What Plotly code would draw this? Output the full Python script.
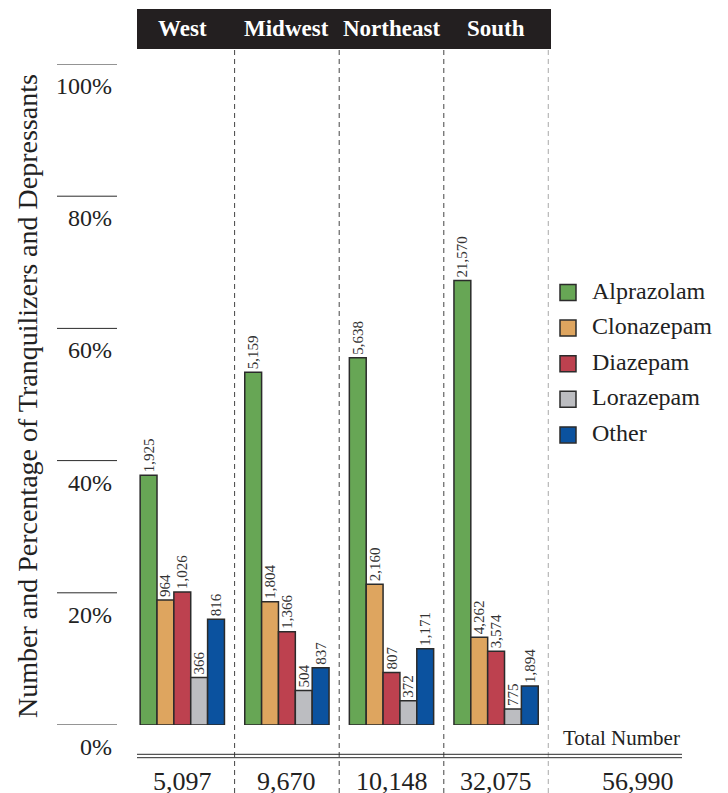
import plotly.graph_objects as go

# --- data ---
regions = ["West", "Midwest", "Northeast", "South"]
drugs = ["Alprazolam", "Clonazepam", "Diazepam", "Lorazepam", "Other"]
alprazolam = [1925, 5159, 5638, 21570]
clonazepam = [964, 1804, 2160, 4262]
diazepam = [1026, 1366, 807, 3574]
lorazepam = [366, 504, 372, 775]
other = [816, 837, 1171, 1894]
region_totals = [5097, 9670, 10148, 32075]
grand_total = 56990
pct_ticks = [0, 20, 40, 60, 80, 100]

counts = [alprazolam, clonazepam, diazepam, lorazepam, other]
colors = ["#67a655", "#dea55f", "#bd414f", "#bcbdc1", "#0b529f"]

# page body has an 8px margin, so the figure is sized to fill the rest
OFF = 8
W, H = 728 - OFF, 793 - OFF
FONT = "Liberation Serif"
INK = "#2b2b2b"


def px(x):
    # screen pixel -> paper x
    return (x - OFF) / W


def py(y):
    # screen pixel -> paper y
    return (H - (y - OFF)) / H


fig = go.Figure()

for name, vals, col in zip(drugs, counts, colors):
    pct = [v / t * 100 for v, t in zip(vals, region_totals)]
    fig.add_trace(go.Bar(
        x=list(range(len(regions))),
        y=pct,
        name=name,
        marker=dict(color=col, line=dict(color=INK, width=1.5)),
        text=[f"{v:,}" for v in vals],
        textposition="outside",
        textangle=-90,
        constraintext="none",
        cliponaxis=False,
        textfont=dict(family=FONT, size=15, color="#333"),
        hovertemplate=name + ": %{text} (%{y:.1f}%)<extra></extra>",
    ))

shapes = []
ann = []

# header bar
shapes.append(dict(type="rect", xref="paper", yref="paper",
                   x0=px(137), x1=px(551), y0=py(49), y1=py(9),
                   fillcolor="#231f20", line=dict(width=0), layer="below"))
for i, r in enumerate(regions):
    ann.append(dict(x=i, xref="x", y=py(29), yref="paper", text=r,
                    showarrow=False, xanchor="center", yanchor="middle",
                    font=dict(family=FONT, size=23, color="white", weight="bold")))

# dashed separators
for i in range(len(regions)):
    shapes.append(dict(type="line", xref="x", yref="paper",
                       x0=i + 0.5, x1=i + 0.5, y0=py(50), y1=0,
                       line=dict(color="#444", width=1, dash="5px,4px")))

# y ticks: short rule with label underneath
for t in pct_ticks:
    shapes.append(dict(type="line", xref="paper", yref="y",
                       x0=px(57), x1=px(117), y0=t, y1=t,
                       line=dict(color=INK, width=1)))
    ann.append(dict(x=px(114), xref="paper", y=t, yref="y", yshift=-22,
                    text=f"{t}%", showarrow=False, xanchor="right", yanchor="middle",
                    font=dict(family=FONT, size=24, color="#222")))

# y title
ann.append(dict(x=px(27), y=py(396), xref="paper", yref="paper",
                text="Number and Percentage of Tranquilizers and Depressants",
                textangle=-90, showarrow=False, xanchor="center", yanchor="middle",
                font=dict(family=FONT, size=28, color="#222")))

# legend (drawn by hand for larger swatches)
for k, (name, col) in enumerate(zip(drugs, colors)):
    yc = 292.5 + k * 35.6
    shapes.append(dict(type="rect", xref="paper", yref="paper",
                       x0=px(560), x1=px(576), y0=py(yc + 8), y1=py(yc - 8),
                       fillcolor=col, line=dict(color=INK, width=1.5)))
    ann.append(dict(x=px(590), y=py(yc - 2), xref="paper", yref="paper", text=name,
                    showarrow=False, xanchor="left", yanchor="middle",
                    font=dict(family=FONT, size=24, color="#222")))

# totals row
for y0 in (754.3, 757.7):
    shapes.append(dict(type="line", xref="paper", yref="paper",
                       x0=px(137), x1=px(682), y0=py(y0), y1=py(y0),
                       line=dict(color=INK, width=1)))
ann.append(dict(x=px(682), y=py(738), xref="paper", yref="paper", text="Total Number",
                showarrow=False, xanchor="right", yanchor="middle",
                font=dict(family=FONT, size=21, color="#222")))
for i, t in enumerate(region_totals):
    ann.append(dict(x=i, xref="x", y=py(781), yref="paper", text=f"{t:,}",
                    showarrow=False, xanchor="center", yanchor="middle",
                    font=dict(family=FONT, size=26, color="#222")))
ann.append(dict(x=px(638), y=py(781), xref="paper", yref="paper", text=f"{grand_total:,}",
                showarrow=False, xanchor="center", yanchor="middle",
                font=dict(family=FONT, size=26, color="#222")))

fig.update_layout(
    width=W, height=H,
    margin=dict(l=0, r=0, t=0, b=0),
    paper_bgcolor="white", plot_bgcolor="white",
    barmode="group", bargap=0.194, bargroupgap=0,
    showlegend=False,
    xaxis=dict(domain=[px(130), px(548.4)], range=[-0.5, 3.5], visible=False),
    yaxis=dict(domain=[py(725), py(64)], range=[0, 100], visible=False),
    shapes=shapes,
    annotations=ann,
)

fig.write_html("out.html")
